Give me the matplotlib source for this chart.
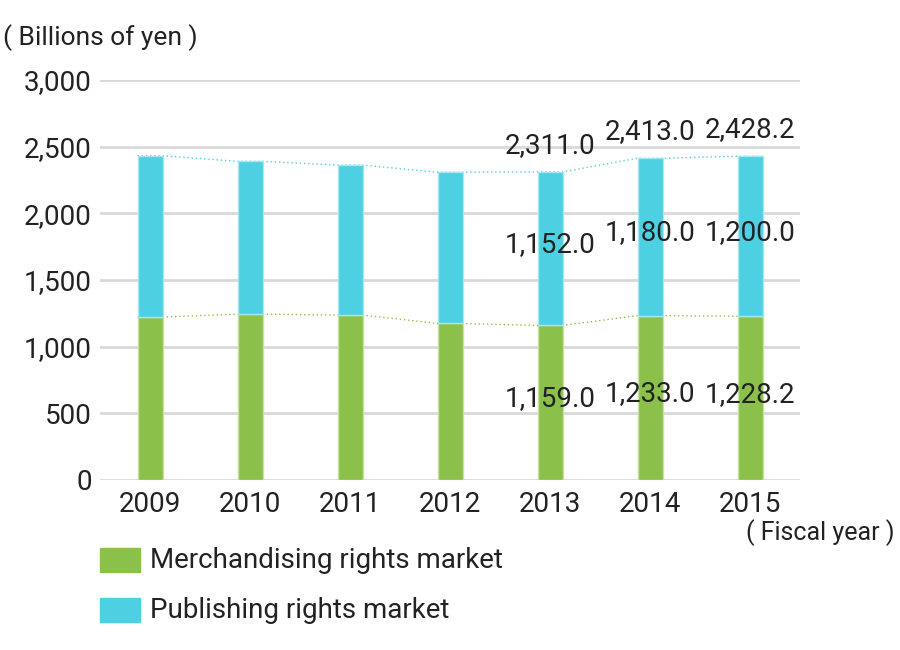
import numpy as np
import matplotlib.pyplot as plt

plt.rcParams['font.family'] = ['Roboto', 'DejaVu Sans']

# data (billions of yen)
years = ["2009", "2010", "2011", "2012", "2013", "2014", "2015"]
merch = [1222.0, 1244.0, 1237.0, 1174.0, 1159.0, 1233.0, 1228.2]
publish = [1210.0, 1146.0, 1125.0, 1134.0, 1152.0, 1180.0, 1200.0]
labelled = [4, 5, 6]  # years with value labels

green = "#8bc14a"
cyan = "#4dd0e1"
txt = "#222222"

merch = np.array(merch)
publish = np.array(publish)
total = merch + publish
x = np.arange(len(years))
w = 0.25

fig = plt.figure(figsize=(9, 6.5), dpi=100)
ax = fig.add_axes([100 / 900, 170 / 650, 700 / 900, 400 / 650])

ax.bar(x, merch, w, color=green, edgecolor="#c5e3a0", linewidth=1, zorder=3)
ax.bar(x, publish, w, bottom=merch, color=cyan, edgecolor="#a6e8f0",
       linewidth=1, zorder=3)

# dotted connectors between bar tops
xs = np.ravel(np.column_stack([x - w / 2, x + w / 2]))
ax.plot(xs, np.repeat(merch, 2), ls=(0, (1, 2)), lw=1, color=green, zorder=2)
ax.plot(xs, np.repeat(total, 2), ls=(0, (1, 2)), lw=1, color=cyan, zorder=2)

for i in labelled:
    ax.text(x[i], merch[i] / 2 + 30, f"{merch[i]:,.1f}", ha="center", va="center",
            fontsize=20, color=txt, zorder=4)
    ax.text(x[i], merch[i] + publish[i] / 2 + 30, f"{publish[i]:,.1f}", ha="center",
            va="center", fontsize=20, color=txt, zorder=4)
    ax.text(x[i], total[i] + 100, f"{total[i]:,.1f}", ha="center", va="bottom",
            fontsize=20, color=txt, zorder=4)

ax.set_xlim(-0.5, len(years) - 0.5)
ax.set_ylim(0, 3000)
ax.set_yticks(np.arange(0, 3001, 500))
ax.set_yticklabels([f"{v:,}" for v in range(0, 3001, 500)])
ax.set_xticks(x)
ax.set_xticklabels(years)
ax.tick_params(axis="both", length=0, labelsize=20, labelcolor=txt)
ax.tick_params(axis="y", pad=6)
ax.tick_params(axis="x", pad=8)
ax.grid(axis="y", color="#d9d9d9", lw=2, zorder=0)
ax.set_axisbelow(True)
for s in ax.spines.values():
    s.set_visible(False)

fig.text(3 / 900, 1 - 38 / 650, "( Billions of yen )", fontsize=19, color=txt,
         va="center", ha="left")
fig.text(895 / 900, 1 - 533 / 650, "( Fiscal year )", fontsize=18, color=txt,
         va="center", ha="right")

# legend
leg_items = [("Merchandising rights market", green), ("Publishing rights market", cyan)]
for k, (name, c) in enumerate(leg_items):
    yc = 1 - (560 + 50 * k) / 650
    fig.patches.append(plt.Rectangle((100 / 900, yc - 12 / 650), 40 / 900, 24 / 650,
                                     transform=fig.transFigure, color=c))
    fig.text(150 / 900, yc, name, fontsize=20, color=txt, va="center", ha="left")

fig.savefig("out.png", dpi=100)
